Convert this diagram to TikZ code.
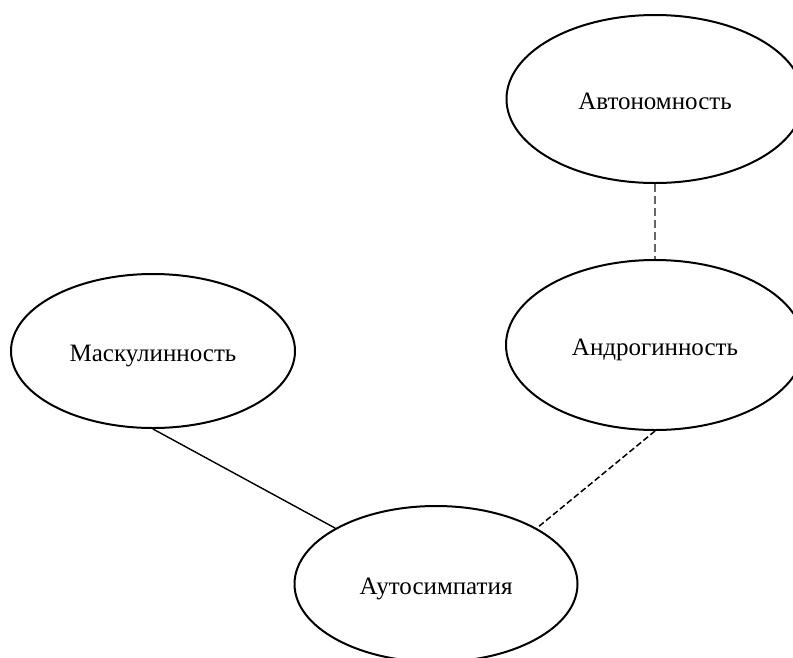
\documentclass[tikz,border=0pt]{standalone}
\usepackage{fontspec}
\setmainfont{Liberation Serif}
\usetikzlibrary{shapes.geometric}
\tikzset{
  concept/.style={ellipse, draw, line width=2pt, inner sep=0pt, text height=21pt, text depth=0pt, font=\fontsize{25}{30}\selectfont},
  solidlink/.style={line width=1.4pt},
  dashlink/.style={line width=1.5pt, dash pattern=on 6pt off 3pt},
  greylink/.style={line width=1.2pt, draw=black!60, dash pattern=on 8pt off 4pt}
}
\begin{document}
\begin{tikzpicture}[x=1pt, y=-1pt]
  \useasboundingbox (0,0) rectangle (793,657);
  \node[concept, minimum width=297pt, minimum height=168pt] (auton) at (655,99) {Автономность};
  \node[concept, minimum width=298pt, minimum height=170pt] (andr) at (655,345) {Андрогинность};
  \node[concept, minimum width=284pt, minimum height=154pt] (mask) at (153,351) {Маскулинность};
  \node[concept, minimum width=283pt, minimum height=156pt] (auto) at (436,584) {Аутосимпатия};
  \draw[greylink] (auton.south) -- (andr.north);
  \draw[solidlink] (mask.south) -- (auto.151);
  \draw[dashlink] (andr.south) -- (auto.29);
\end{tikzpicture}
\end{document}
